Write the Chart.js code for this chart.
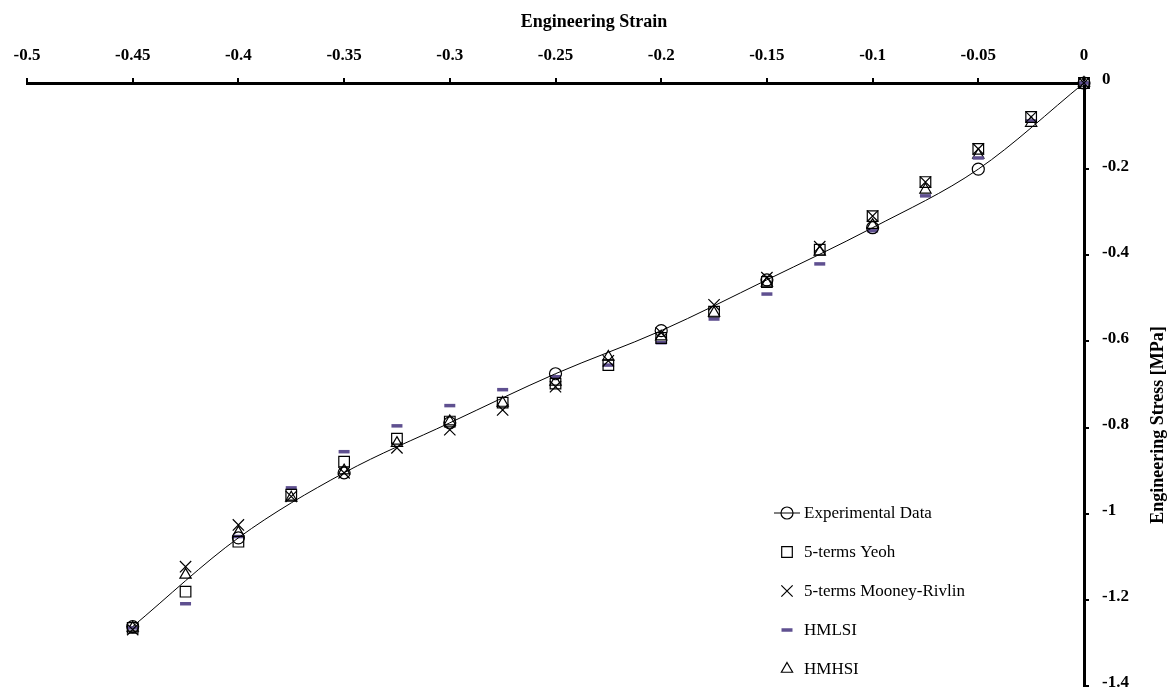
<!DOCTYPE html>
<html>
<head>
<meta charset="utf-8">
<title>Engineering Stress vs Strain</title>
<script src="https://cdn.jsdelivr.net/npm/chart.js@4/dist/chart.umd.min.js"></script>
<style>
    html, body { margin: 0; padding: 0; background: #fff; }
    #wrap { width: 1176px; height: 689px; }
</style>
</head>
<body>
<div id="wrap"><canvas id="stressChart" width="1176" height="689"></canvas></div>
<script>
// Experimental data (circles + line)
const expStrain = [0, -0.05, -0.1, -0.15, -0.2, -0.25, -0.3, -0.35, -0.4, -0.45];
const expStress = [0, -0.2, -0.336, -0.457, -0.575, -0.675, -0.789, -0.905, -1.056, -1.262];

// Model predictions, every 0.025 strain
const modelStrain = [0, -0.025, -0.05, -0.075, -0.1, -0.125, -0.15, -0.175, -0.2, -0.225,
    -0.25, -0.275, -0.3, -0.325, -0.35, -0.375, -0.4, -0.425, -0.45];
const yeohStress = [0, -0.079, -0.153, -0.23, -0.309, -0.387, -0.462, -0.531, -0.592, -0.655,
    -0.698, -0.742, -0.786, -0.826, -0.879, -0.956, -1.065, -1.181, -1.265];
const mooneyStress = [0, -0.079, -0.153, -0.23, -0.309, -0.38, -0.452, -0.515, -0.58, -0.645,
    -0.705, -0.759, -0.805, -0.847, -0.905, -0.96, -1.026, -1.123, -1.269];
const hmlsiStress = [0, -0.088, -0.174, -0.262, -0.343, -0.42, -0.49, -0.548, -0.603, -0.655,
    -0.682, -0.712, -0.749, -0.796, -0.856, -0.94, -1.053, -1.209, -1.265];
const hmhsiStress = [0, -0.093, -0.167, -0.248, -0.33, -0.392, -0.464, -0.534, -0.589, -0.636,
    -0.694, -0.743, -0.786, -0.836, -0.9, -0.963, -1.044, -1.142, -1.265];

// Tick labels
const strainTicks = [-0.5, -0.45, -0.4, -0.35, -0.3, -0.25, -0.2, -0.15, -0.1, -0.05, 0];
const stressTicks = [0, -0.2, -0.4, -0.6, -0.8, -1, -1.2, -1.4];

const serif = '"Liberation Serif", "Times New Roman", serif';
const dashColor = '#5f5090';

function pairs(xs, ys) {
    return xs.map((x, i) => ({ x: x, y: ys[i] }));
}

function fmt(v) {
    return String(Number(v.toFixed(2)));
}

// legend symbol, drawn by hand so it matches the point styles
function drawSymbol(ctx, ds, x, y) {
    ctx.save();
    ctx.strokeStyle = ds.pointBorderColor;
    ctx.lineWidth = ds.pointBorderWidth;
    const r = ds.pointRadius;
    if (ds.showLine) {
        ctx.lineWidth = 1;
        ctx.beginPath();
        ctx.moveTo(x - 13, y);
        ctx.lineTo(x + 13, y);
        ctx.stroke();
        ctx.lineWidth = ds.pointBorderWidth;
    }
    ctx.beginPath();
    switch (ds.pointStyle) {
        case 'circle':
            ctx.arc(x, y, r, 0, Math.PI * 2);
            break;
        case 'rect': {
            const s = Math.SQRT1_2 * r;
            ctx.rect(x - s, y - s, 2 * s, 2 * s);
            break;
        }
        case 'crossRot': {
            const o = Math.SQRT1_2 * r;
            ctx.moveTo(x - o, y - o); ctx.lineTo(x + o, y + o);
            ctx.moveTo(x - o, y + o); ctx.lineTo(x + o, y - o);
            break;
        }
        case 'line':
            ctx.moveTo(x - r, y); ctx.lineTo(x + r, y);
            break;
        case 'triangle':
            ctx.moveTo(x, y - r);
            ctx.lineTo(x + Math.sin(Math.PI / 3) * r, y + r / 2);
            ctx.lineTo(x - Math.sin(Math.PI / 3) * r, y + r / 2);
            ctx.closePath();
            break;
    }
    ctx.stroke();
    ctx.restore();
}

const labelsPlugin = {
    id: 'labelsPlugin',
    afterDraw(chart) {
        const ctx = chart.ctx;
        ctx.save();
        ctx.fillStyle = '#000';
        ctx.font = 'bold 18px ' + serif;
        ctx.textAlign = 'center';
        ctx.textBaseline = 'middle';
        ctx.fillText('Engineering Strain', 594, 22);

        ctx.save();
        ctx.translate(1158, 425);
        ctx.rotate(-Math.PI / 2);
        ctx.fillText('Engineering Stress [MPa]', 0, 0);
        ctx.restore();

        // legend, bottom right
        ctx.font = '17px ' + serif;
        ctx.textAlign = 'left';
        chart.data.datasets.forEach((ds, i) => {
            const y = 513 + i * 39;
            drawSymbol(ctx, ds, 787, y);
            ctx.fillStyle = '#000';
            ctx.fillText(ds.label, 804, y + 1);
        });
        ctx.restore();
    }
};

const markerBase = {
    showLine: false,
    pointBackgroundColor: 'transparent',
    pointBorderColor: '#000',
    pointBorderWidth: 1.2,
    clip: false
};

const ctx = document.getElementById('stressChart').getContext('2d');
new Chart(ctx, {
    type: 'scatter',
    data: {
        datasets: [
            {
                label: 'Experimental Data',
                data: pairs(expStrain, expStress),
                showLine: true,
                borderColor: '#000',
                borderWidth: 1,
                cubicInterpolationMode: 'monotone',
                pointStyle: 'circle',
                pointRadius: 6,
                pointBackgroundColor: 'transparent',
                pointBorderColor: '#000',
                pointBorderWidth: 1.2,
                clip: false
            },
            Object.assign({}, markerBase, {
                label: '5-terms Yeoh',
                data: pairs(modelStrain, yeohStress),
                pointStyle: 'rect',
                pointRadius: 7.5
            }),
            Object.assign({}, markerBase, {
                label: '5-terms Mooney-Rivlin',
                data: pairs(modelStrain, mooneyStress),
                pointStyle: 'crossRot',
                pointRadius: 8
            }),
            Object.assign({}, markerBase, {
                label: 'HMLSI',
                data: pairs(modelStrain, hmlsiStress),
                pointStyle: 'line',
                pointRadius: 5.5,
                pointBorderColor: dashColor,
                pointBorderWidth: 3.5
            }),
            Object.assign({}, markerBase, {
                label: 'HMHSI',
                data: pairs(modelStrain, hmhsiStress),
                pointStyle: 'triangle',
                pointRadius: 6.5
            })
        ]
    },
    options: {
        responsive: false,
        animation: false,
        layout: { autoPadding: false, padding: { left: 27, right: 0, top: 0, bottom: 3 } },
        plugins: {
            legend: { display: false },
            tooltip: { enabled: false }
        },
        scales: {
            x: {
                type: 'linear',
                position: 'top',
                min: -0.5,
                max: 0,
                afterBuildTicks: scale => { scale.ticks = strainTicks.map(v => ({ value: v })); },
                afterFit: scale => {
                    scale.height = 83;
                    scale.paddingLeft = 0;
                    scale.paddingRight = 0;
                },
                ticks: {
                    color: '#000',
                    font: { family: serif, size: 17, weight: 'bold' },
                    padding: 12,
                    maxRotation: 0,
                    callback: v => fmt(v)
                },
                grid: { drawOnChartArea: false, color: '#000', lineWidth: 2, tickLength: 5 },
                border: { color: '#000', width: 3 }
            },
            y: {
                type: 'linear',
                position: 'right',
                min: -1.4,
                max: 0,
                afterBuildTicks: scale => { scale.ticks = stressTicks.map(v => ({ value: v })); },
                afterFit: scale => {
                    scale.width = 92;
                    scale.paddingTop = 0;
                    scale.paddingBottom = 0;
                },
                ticks: {
                    color: '#000',
                    font: { family: serif, size: 17, weight: 'bold' },
                    padding: 13,
                    labelOffset: -3,
                    callback: v => fmt(v)
                },
                grid: { drawOnChartArea: false, color: '#000', lineWidth: 2, tickLength: 5 },
                border: { color: '#000', width: 3 }
            }
        }
    },
    plugins: [labelsPlugin]
});
</script>
</body>
</html>
